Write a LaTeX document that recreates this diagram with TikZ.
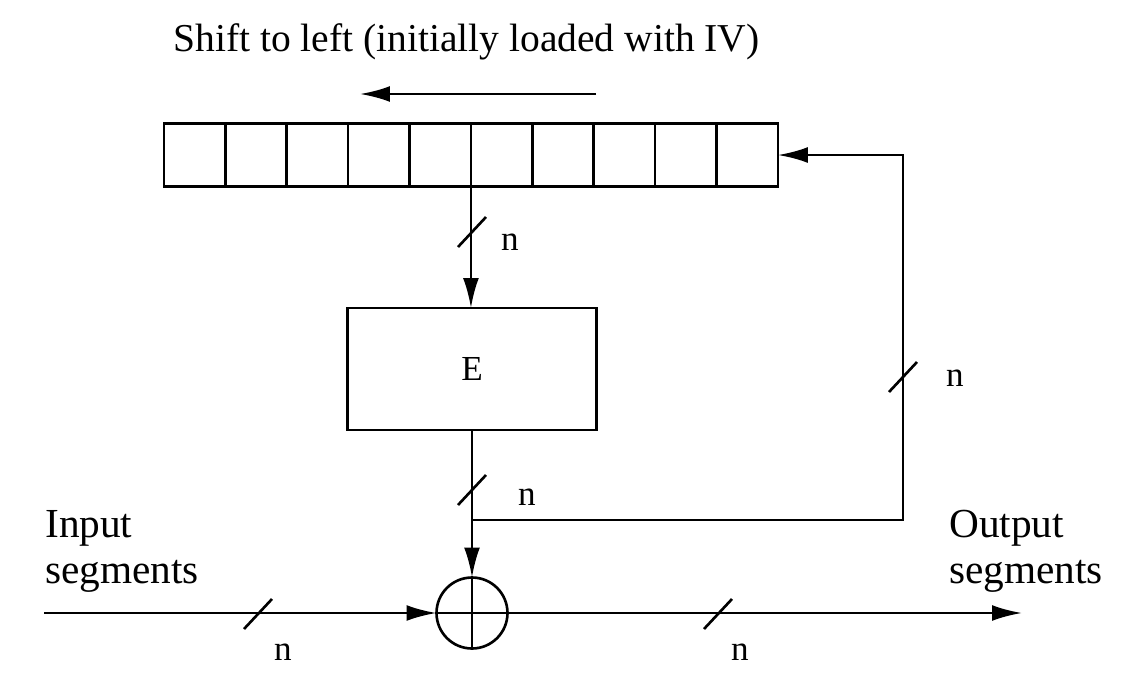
\documentclass[tikz,border=0pt]{standalone}
\usepackage{fontspec}
\setmainfont{Liberation Serif}
\usetikzlibrary{calc}
\usetikzlibrary{positioning,arrows.meta}

\tikzset{
  cell/.style={draw, minimum width=1.228cm, minimum height=1.26cm, inner sep=0pt, outer sep=0pt},
  ebox/.style={draw, minimum width=4.98cm, minimum height=2.44cm, inner sep=0pt, outer sep=0pt},
  xorc/.style={draw, circle, minimum size=1.42cm, inner sep=0pt, outer sep=0pt},
  lbl/.style={font=\fontsize{20}{24}\selectfont, inner sep=0pt},
  seglbl/.style={font=\fontsize{23.5}{26}\selectfont, inner sep=0pt, anchor=north west, align=left},
}
\newcommand{\nslash}[1]{\draw ($(#1)+(-14,15)$) -- +(28,-30);}

\begin{document}
\begin{tikzpicture}[x=0.02cm, y=-0.02cm, line width=1.5pt, >={Latex[length=17pt,width=9pt]}]
    \useasboundingbox (0,0) rectangle (1130,684);
    \node[lbl, anchor=west, font=\fontsize{22.5}{26}\selectfont] (title) at (172,42) {Shift to left (initially loaded with IV)};
    \draw[->] (596,94) -- (360,94);
    \node[cell] (c1) at (194.7,155) {};
    \foreach \i [count=\j] in {2,...,10}
        \node[cell, right=0pt of c\j] (c\i) {};
    \node[ebox, lbl] (e) at (472,369) {E};
    \node[xorc] (xor) at (472,613) {};
    \coordinate (join) at (472,520);
    \coordinate (corner) at (903,520);
    \coordinate (in) at (44,613);
    \coordinate (out) at (1022,613);
    \draw[->] (c5.south east) -- (c5.south east |- e.north);
    \draw[->] (e.south) -- (xor.north);
    \draw[->] (join) -- (corner) |- (c10.east);
    \draw[->] (in) -- (xor.west);
    \draw[->] (xor.east) -- (out);
    \draw (xor.west) -- (xor.east);
    \draw (xor.north) -- (xor.south);
    \nslash{472,232}
    \nslash{472,490}
    \nslash{903,377}
    \nslash{258,614}
    \nslash{718,614}
    \node[lbl] (n1) at (510,242) {n};
    \node[lbl] (n2) at (527,497) {n};
    \node[lbl] (n3) at (955,378) {n};
    \node[lbl] (n4) at (283,652) {n};
    \node[lbl] (n5) at (740,652) {n};
    \node[seglbl] (inlbl) at (44,509) {Input\\segments};
    \node[seglbl] (outlbl) at (948,509) {Output\\segments};
\end{tikzpicture}
\end{document}
